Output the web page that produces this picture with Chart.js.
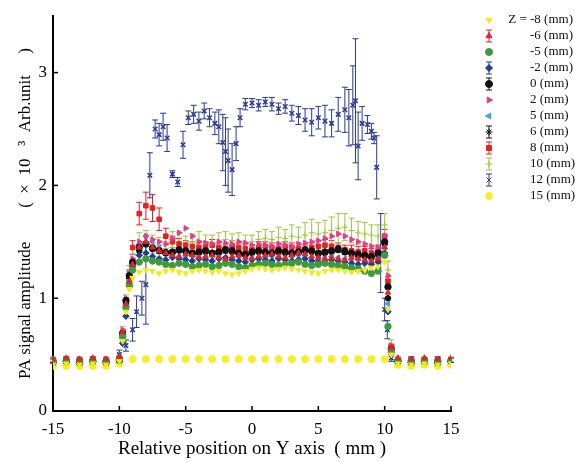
<!DOCTYPE html>
<html>
<head>
<meta charset="utf-8">
<script src="https://cdn.jsdelivr.net/npm/chart.js@4.4.1/dist/chart.umd.min.js"></script>
<style>
body { margin: 0; background: #fff; }
</style>
</head>
<body>
<canvas id="myChart" width="575" height="462"></canvas>
<script>
// tick labels
const xTicks = [-15, -10, -5, 0, 5, 10, 15];
const yTicks = [0, 1, 2, 3];

// legend labels (Z position)
const zLabels = ['Z = -8 (mm)', '-6 (mm)', '-5 (mm)', '-2 (mm)', '0 (mm)', '2 (mm)',
    '5 (mm)', '6 (mm)', '8 (mm)', '10 (mm)', '12 (mm)', '15 (mm)'];

// shared positions for the bundle series (mm)
const xs = [-15, -14, -13, -12, -11, -10, -9.75, -9.5, -9.25,
    -9, -8.5, -8, -7.5, -7, -6.5, -6, -5.5, -5, -4.5,
    -4, -3.5, -3, -2.5, -2, -1.5, -1, -0.5, 0, 0.5,
    1, 1.5, 2, 2.5, 3, 3.5, 4, 4.5, 5, 5.5,
    6, 6.5, 7, 7.5, 8, 8.5, 9, 9.5, 10,
    10.25, 10.5, 11, 12, 13, 14, 15];

const yM8 = [0.41, 0.42, 0.41, 0.42, 0.41, 0.44, 0.62, 0.88, 1.08,
    1.18, 1.23, 1.25, 1.24, 1.22, 1.24, 1.25, 1.23, 1.22, 1.24,
    1.25, 1.24, 1.23, 1.24, 1.22, 1.21, 1.22, 1.24, 1.26, 1.27,
    1.26, 1.25, 1.26, 1.27, 1.26, 1.25, 1.24, 1.23, 1.22, 1.24,
    1.25, 1.25, 1.24, 1.23, 1.24, 1.25, 1.27, 1.28, 1.32,
    0.9, 0.5, 0.42, 0.41, 0.42, 0.41, 0.42];
const yM6 = [0.46, 0.47, 0.46, 0.47, 0.46, 0.48, 0.7, 0.95, 1.15,
    1.3, 1.45, 1.5, 1.45, 1.42, 1.4, 1.38, 1.37, 1.39, 1.38,
    1.36, 1.37, 1.38, 1.36, 1.35, 1.37, 1.38, 1.36, 1.35, 1.37,
    1.38, 1.39, 1.37, 1.36, 1.38, 1.4, 1.39, 1.37, 1.36, 1.35,
    1.36, 1.35, 1.34, 1.36, 1.35, 1.34, 1.33, 1.35, 1.45,
    1.05, 0.56, 0.47, 0.46, 0.47, 0.46, 0.47];
const yM5 = [0.44, 0.45, 0.44, 0.45, 0.44, 0.46, 0.66, 0.92, 1.12,
    1.25, 1.32, 1.35, 1.33, 1.32, 1.3, 1.29, 1.31, 1.3, 1.28,
    1.29, 1.3, 1.28, 1.29, 1.31, 1.3, 1.28, 1.27, 1.29, 1.3,
    1.31, 1.3, 1.29, 1.3, 1.31, 1.32, 1.3, 1.29, 1.3, 1.31,
    1.3, 1.29, 1.28, 1.27, 1.26, 1.24, 1.22, 1.24, 1.38,
    0.75, 0.54, 0.45, 0.44, 0.45, 0.44, 0.45];
const yM2 = [0.45, 0.44, 0.45, 0.44, 0.45, 0.47, 0.6, 0.84, 1.1,
    1.28, 1.38, 1.4, 1.37, 1.35, 1.34, 1.36, 1.35, 1.34, 1.33,
    1.35, 1.34, 1.33, 1.35, 1.36, 1.34, 1.33, 1.32, 1.34, 1.35,
    1.34, 1.33, 1.35, 1.34, 1.33, 1.34, 1.35, 1.33, 1.32, 1.33,
    1.34, 1.33, 1.32, 1.31, 1.3, 1.31, 1.3, 1.32, 1.4,
    0.88, 0.52, 0.44, 0.45, 0.44, 0.45, 0.44];
const y0 = [0.43, 0.44, 0.43, 0.44, 0.43, 0.45, 0.68, 0.98, 1.2,
    1.32, 1.45, 1.48, 1.44, 1.42, 1.4, 1.41, 1.43, 1.42, 1.4,
    1.41, 1.42, 1.4, 1.41, 1.43, 1.42, 1.4, 1.39, 1.41, 1.42,
    1.41, 1.4, 1.42, 1.41, 1.4, 1.41, 1.43, 1.42, 1.4, 1.41,
    1.42, 1.43, 1.41, 1.4, 1.39, 1.38, 1.37, 1.4, 1.5,
    1.1, 0.55, 0.44, 0.43, 0.44, 0.43, 0.44];
const yP2 = [0.46, 0.45, 0.46, 0.45, 0.46, 0.47, 0.72, 1.0, 1.22,
    1.35, 1.5, 1.55, 1.52, 1.5, 1.48, 1.53, 1.58, 1.62, 1.55,
    1.5, 1.49, 1.48, 1.5, 1.49, 1.48, 1.5, 1.49, 1.47, 1.48,
    1.47, 1.46, 1.48, 1.47, 1.46, 1.48, 1.49, 1.5, 1.51, 1.53,
    1.55, 1.57, 1.55, 1.52, 1.5, 1.48, 1.46, 1.45, 1.55,
    1.2, 0.58, 0.45, 0.46, 0.45, 0.46, 0.45];
const yP5 = [0.44, 0.44, 0.44, 0.44, 0.44, 0.46, 0.64, 0.9, 1.16,
    1.32, 1.48, 1.55, 1.5, 1.45, 1.4, 1.38, 1.37, 1.36, 1.38,
    1.37, 1.36, 1.38, 1.37, 1.36, 1.35, 1.37, 1.38, 1.36, 1.35,
    1.36, 1.37, 1.36, 1.35, 1.37, 1.38, 1.36, 1.35, 1.34, 1.36,
    1.37, 1.36, 1.35, 1.34, 1.35, 1.36, 1.34, 1.35, 1.45,
    0.95, 0.53, 0.44, 0.44, 0.44, 0.44, 0.44];
const yP6 = [0.45, 0.45, 0.45, 0.45, 0.45, 0.47, 0.7, 0.96, 1.18,
    1.3, 1.42, 1.48, 1.45, 1.43, 1.41, 1.4, 1.42, 1.41, 1.39,
    1.4, 1.41, 1.39, 1.4, 1.42, 1.41, 1.39, 1.38, 1.4, 1.41,
    1.4, 1.39, 1.41, 1.4, 1.39, 1.4, 1.42, 1.41, 1.39, 1.4,
    1.41, 1.44, 1.42, 1.4, 1.38, 1.37, 1.36, 1.39, 1.48,
    1.0, 0.55, 0.45, 0.45, 0.45, 0.45, 0.45];
const yP8 = [0.44, 0.45, 0.44, 0.45, 0.44, 0.46, 0.66, 0.94, 1.2,
    1.45, 1.75, 1.82, 1.8, 1.7, 1.55, 1.5, 1.48, 1.47, 1.46,
    1.45, 1.46, 1.47, 1.45, 1.44, 1.46, 1.45, 1.44, 1.43, 1.45,
    1.46, 1.45, 1.44, 1.46, 1.45, 1.44, 1.43, 1.45, 1.46, 1.47,
    1.46, 1.45, 1.43, 1.42, 1.41, 1.42, 1.4, 1.42, 1.55,
    1.15, 0.57, 0.45, 0.44, 0.45, 0.44, 0.45];
const eP8 = [0.02, 0.02, 0.02, 0.02, 0.02, 0.02, 0.04, 0.04, 0.05,
    0.06, 0.1, 0.12, 0.12, 0.1, 0.07, 0.05, 0.05, 0.04, 0.04,
    0.04, 0.04, 0.05, 0.04, 0.04, 0.05, 0.04, 0.04, 0.04, 0.05,
    0.04, 0.04, 0.05, 0.04, 0.04, 0.05, 0.04, 0.04, 0.05, 0.05,
    0.05, 0.04, 0.04, 0.05, 0.05, 0.04, 0.04, 0.05, 0.06,
    0.04, 0.02, 0.02, 0.02, 0.02, 0.02, 0.02];
const yP10 = [0.46, 0.46, 0.46, 0.46, 0.46, 0.48, 0.7, 0.98, 1.24,
    1.35, 1.48, 1.5, 1.48, 1.47, 1.5, 1.52, 1.5, 1.49, 1.5,
    1.51, 1.5, 1.49, 1.5, 1.52, 1.51, 1.5, 1.49, 1.5, 1.52,
    1.53, 1.52, 1.54, 1.53, 1.55, 1.54, 1.56, 1.58, 1.57, 1.58,
    1.6, 1.62, 1.63, 1.6, 1.58, 1.57, 1.56, 1.55, 1.65,
    1.25, 0.6, 0.46, 0.46, 0.46, 0.46, 0.46];
const eP10 = [0.02, 0.02, 0.02, 0.02, 0.02, 0.02, 0.05, 0.05, 0.05,
    0.08, 0.1, 0.1, 0.08, 0.07, 0.06, 0.07, 0.08, 0.06, 0.07,
    0.08, 0.06, 0.07, 0.08, 0.07, 0.06, 0.08, 0.07, 0.06, 0.07,
    0.08, 0.07, 0.09, 0.08, 0.1, 0.09, 0.11, 0.12, 0.1, 0.11,
    0.12, 0.13, 0.12, 0.11, 0.1, 0.1, 0.09, 0.1, 0.1,
    0.08, 0.03, 0.02, 0.02, 0.02, 0.02, 0.02];

// Z = 12 mm has its own positions
const xs12 = [-15, -14, -13, -12, -11, -10,
    -9.5, -9, -8.7, -8.3, -8,
    -7.7, -7.3, -7, -6.7, -6.4, -6, -5.6, -5.2, -4.8, -4.4,
    -4, -3.6, -3.2, -2.8, -2.5, -2.2, -2, -1.8, -1.5, -1.2,
    -0.9, -0.5, 0, 0.5, 1, 1.5, 2, 2.5, 3, 3.5,
    4, 4.5, 5, 5.5, 6, 6.5, 7, 7.3, 7.6, 7.8,
    8, 8.3, 8.7, 9, 9.2, 9.4, 9.7, 10, 10.2, 10.5,
    11, 12, 13, 14, 15];
const y12 = [0.45, 0.46, 0.45, 0.46, 0.45, 0.5,
    0.58, 0.72, 0.88, 1.0, 1.12,
    2.09, 2.5, 2.45, 2.52, 2.42, 2.1, 2.03, 2.36, 2.6, 2.63,
    2.57, 2.66, 2.6, 2.55, 2.52, 2.38, 2.3, 2.22, 2.14, 2.37,
    2.6, 2.72, 2.73, 2.71, 2.74, 2.72, 2.68, 2.7, 2.64, 2.62,
    2.58, 2.56, 2.6, 2.57, 2.55, 2.63, 2.67, 2.6, 2.71, 2.75,
    2.35, 2.55, 2.54, 2.48, 2.42, 2.16, 1.4, 0.9, 0.72, 0.47,
    0.45, 0.46, 0.45, 0.46, 0.45];
const e12 = [0.02, 0.02, 0.02, 0.02, 0.02, 0.04,
    0.05, 0.1, 0.14, 0.15, 0.35,
    0.2, 0.08, 0.1, 0.12, 0.12, 0.03, 0.04, 0.12, 0.06, 0.08,
    0.08, 0.07, 0.08, 0.1, 0.15, 0.25, 0.3, 0.28, 0.23, 0.15,
    0.08, 0.05, 0.04, 0.05, 0.04, 0.06, 0.05, 0.06, 0.07, 0.08,
    0.1, 0.12, 0.1, 0.14, 0.12, 0.15, 0.2, 0.25, 0.35, 0.55,
    0.3, 0.15, 0.08, 0.07, 0.05, 0.28, 0.35, 0.1, 0.08, 0.03,
    0.02, 0.02, 0.02, 0.02, 0.02];

// Z = 15 mm baseline, every 1 mm
const xs15 = [-15, -14, -13, -12, -11, -10, -9, -8, -7, -6, -5, -4, -3, -2, -1, 0,
    1, 2, 3, 4, 5, 6, 7, 8, 9, 10, 11, 12, 13, 14, 15];
const y15 = [0.4, 0.4, 0.4, 0.4, 0.4, 0.42, 0.46, 0.46, 0.46, 0.46, 0.46, 0.46, 0.46, 0.46, 0.46, 0.46,
    0.46, 0.46, 0.46, 0.46, 0.46, 0.46, 0.46, 0.46, 0.46, 0.46, 0.41, 0.4, 0.41, 0.4, 0.41];

const pts = (x, y) => x.map((v, i) => ({ x: v, y: y[i] }));

function series(label, x, y, color, style, rotation, extra) {
    return Object.assign({
        label: label,
        data: pts(x, y),
        borderColor: color,
        backgroundColor: color,
        pointStyle: style,
        pointRotation: rotation,
        pointRadius: 3.2,
        pointBorderWidth: 1,
        showLine: false
    }, extra || {});
}

const errorBars = {
    id: 'errorBars',
    beforeDatasetsDraw(chart) {
        const ctx = chart.ctx;
        const yScale = chart.scales.y;
        chart.data.datasets.forEach((ds, i) => {
            if (!ds.errors) return;
            const meta = chart.getDatasetMeta(i);
            ctx.save();
            ctx.strokeStyle = ds.borderColor;
            ctx.lineWidth = 1;
            meta.data.forEach((pt, j) => {
                const v = ds.data[j].y, e = ds.errors[j];
                const top = yScale.getPixelForValue(v + e);
                const bot = yScale.getPixelForValue(v - e);
                ctx.beginPath();
                ctx.moveTo(pt.x, top); ctx.lineTo(pt.x, bot);
                ctx.moveTo(pt.x - 3, top); ctx.lineTo(pt.x + 3, top);
                ctx.moveTo(pt.x - 3, bot); ctx.lineTo(pt.x + 3, bot);
                ctx.stroke();
            });
            ctx.restore();
        });
    }
};

const innerTicks = {
    id: 'innerTicks',
    afterDraw(chart) {
        const { ctx, chartArea, scales } = chart;
        ctx.save();
        ctx.strokeStyle = '#000';
        ctx.lineWidth = 1.5;
        xTicks.forEach(v => {
            const px = scales.x.getPixelForValue(v);
            ctx.beginPath();
            ctx.moveTo(px, chartArea.bottom);
            ctx.lineTo(px, chartArea.bottom - 5);
            ctx.stroke();
        });
        yTicks.forEach(v => {
            const py = scales.y.getPixelForValue(v);
            ctx.beginPath();
            ctx.moveTo(chartArea.left, py);
            ctx.lineTo(chartArea.left + 5, py);
            ctx.stroke();
        });
        ctx.restore();
    }
};

const sideLegend = {
    id: 'sideLegend',
    afterDraw(chart) {
        const ctx = chart.ctx;
        ctx.save();
        ctx.font = '13px "Liberation Serif", serif';
        ctx.textBaseline = 'middle';
        ctx.textAlign = 'left';
        const prefix = 'Z = ';
        chart.data.datasets.forEach((ds, i) => {
            const y = 20 + i * 16;
            if (ds.errors || ds.legendBar) {
                ctx.strokeStyle = ds.borderColor;
                ctx.lineWidth = 1;
                ctx.beginPath();
                ctx.moveTo(489, y - 6); ctx.lineTo(489, y + 6);
                ctx.moveTo(486, y - 6); ctx.lineTo(492, y - 6);
                ctx.moveTo(486, y + 6); ctx.lineTo(492, y + 6);
                ctx.stroke();
            }
            ctx.fillStyle = ds.backgroundColor;
            ctx.strokeStyle = ds.borderColor;
            ctx.lineWidth = 1;
            Chart.helpers.drawPoint(ctx, {
                pointStyle: ds.pointStyle,
                radius: 3.5,
                rotation: ds.pointRotation || 0,
                borderWidth: 1
            }, 489, y);
            ctx.fillStyle = '#111';
            let tx = 530;
            if (ds.label.startsWith(prefix)) tx -= ctx.measureText(prefix).width;
            ctx.fillText(ds.label, tx, y);
        });
        ctx.restore();
    }
};

const serif = '"Liberation Serif", "Times New Roman", serif';

const ctx = document.getElementById('myChart');

const myChart = new Chart(ctx, {
    type: 'scatter',
    data: {
        datasets: [
            series(zLabels[0], xs, yM8, '#f3ea1c', 'triangle', 180),
            series(zLabels[1], xs, yM6, '#e3232b', 'triangle', 0, { legendBar: true }),
            series(zLabels[2], xs, yM5, '#3f9a3c', 'circle', 0),
            series(zLabels[3], xs, yM2, '#1f3c97', 'rectRot', 0, { legendBar: true }),
            series(zLabels[4], xs, y0, '#111111', 'circle', 0, { legendBar: true }),
            series(zLabels[5], xs, yP2, '#e8398d', 'triangle', 90),
            series(zLabels[6], xs, yP5, '#4c9fd5', 'triangle', -90),
            series(zLabels[7], xs, yP6, '#111111', 'star', 0, { legendBar: true, pointBorderWidth: 2 }),
            series(zLabels[8], xs, yP8, '#e61e25', 'rect', 0, { errors: eP8 }),
            series(zLabels[9], xs, yP10, '#9cc83c', 'cross', 0, { errors: eP10 }),
            series(zLabels[10], xs12, y12, '#2b3990', 'crossRot', 0, { errors: e12, pointBorderWidth: 1.5 }),
            series(zLabels[11], xs15, y15, '#f6ee2a', 'circle', 0, { pointRadius: 3.6 })
        ]
    },
    options: {
        responsive: false,
        animation: false,
        layout: {
            padding: { top: 12, right: 124, left: 0, bottom: 0 }
        },
        plugins: {
            legend: { display: false },
            tooltip: { enabled: false }
        },
        scales: {
            x: {
                type: 'linear',
                min: -15,
                max: 15,
                afterBuildTicks: (scale) => { scale.ticks = xTicks.map(v => ({ value: v })); },
                afterFit: (scale) => { scale.height = 51; },
                grid: { display: false, drawTicks: false },
                border: { display: true, color: '#000', width: 2 },
                ticks: {
                    autoSkip: false,
                    maxRotation: 0,
                    padding: 8,
                    color: '#000',
                    font: { family: serif, size: 17 }
                },
                title: {
                    display: true,
                    text: 'Relative position on Y axis  ( mm )',
                    color: '#000',
                    padding: { top: 0, bottom: 2 },
                    font: { family: serif, size: 19 }
                }
            },
            y: {
                min: 0,
                max: 3.5,
                afterBuildTicks: (scale) => { scale.ticks = yTicks.map(v => ({ value: v })); },
                afterFit: (scale) => { scale.width = 53; },
                grid: { display: false, drawTicks: false },
                border: { display: true, color: '#000', width: 2 },
                ticks: {
                    padding: 6,
                    color: '#000',
                    font: { family: serif, size: 17 }
                },
                title: {
                    display: true,
                    text: 'PA signal amplitude        (  ×  10   ³  Arb.unit     )',
                    color: '#000',
                    padding: { top: 15, bottom: 0 },
                    font: { family: serif, size: 17 }
                }
            }
        }
    },
    plugins: [errorBars, innerTicks, sideLegend]
});
</script>
</body>
</html>
